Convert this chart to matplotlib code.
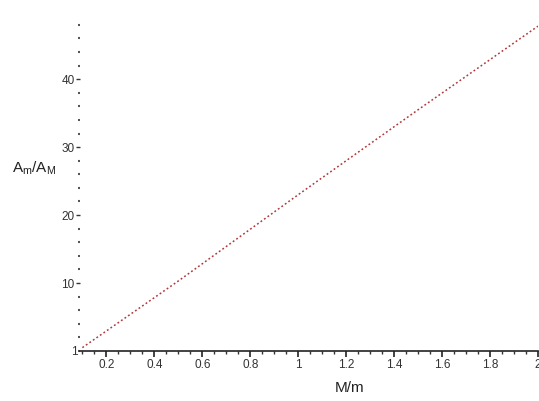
import matplotlib
matplotlib.use("Agg")
import matplotlib.pyplot as plt
from matplotlib.ticker import MultipleLocator, FixedLocator

# Data
mass_ratio = [0.1, 0.5, 1.0, 1.5, 2.0]
amp_ratio = [0.5, 10.3, 23.0, 35.5, 47.8]
x_ticks = [0.2, 0.4, 0.6, 0.8, 1.0, 1.2, 1.4, 1.6, 1.8, 2.0]
x_tick_labels = ["0.2", "0.4", "0.6", "0.8", "1", "1.2", "1.4", "1.6", "1.8", "2"]
y_ticks = [10, 20, 30, 40]
y_tick_labels = ["10", "20", "30", "40"]

plt.rcParams['font.family'] = ['Liberation Sans', 'DejaVu Sans']
plt.rcParams['mathtext.fontset'] = 'custom'
plt.rcParams['mathtext.rm'] = 'Liberation Sans'

W, H = 539, 401
fig = plt.figure(figsize=(W / 100, H / 100), dpi=100)
left, right, bottom, top = 80, 538, 351, 18
ax = fig.add_axes([left / W, 1 - bottom / H, (right - left) / W, (bottom - top) / H])

ax.plot(mass_ratio, amp_ratio, color='#b0383a', linestyle=(0, (1.2, 1.6)), linewidth=1.1)

ax.set_xlim(0.09, 2.0)
ax.set_ylim(0, 49)

for s in ['top', 'right', 'left']:
    ax.spines[s].set_visible(False)
ax.spines['bottom'].set_linewidth(1.2)
ax.spines['bottom'].set_color('#222222')

ax.xaxis.set_major_locator(FixedLocator(x_ticks))
ax.set_xticklabels(x_tick_labels)
ax.xaxis.set_minor_locator(MultipleLocator(0.05))
ax.yaxis.set_major_locator(FixedLocator(y_ticks))
ax.set_yticklabels(y_tick_labels)
ax.yaxis.set_minor_locator(MultipleLocator(2))

ax.tick_params(axis='x', which='major', direction='out', length=4, width=1.2,
               color='#222222', labelsize=8.5, labelcolor='#333333', pad=1.5)
ax.tick_params(axis='x', which='minor', direction='out', length=2.5, width=1.0, color='#333333')
ax.tick_params(axis='y', which='major', direction='out', length=3, width=1.0,
               color='#333333', labelsize=8.5, labelcolor='#333333', pad=1)
ax.tick_params(axis='y', which='minor', direction='out', length=1.2, width=1.5, color='#555555')

fig.text(12 / W, 1 - 168 / H, r'A$_\mathrm{m}$/A$_\mathrm{M}$', fontsize=11,
         ha='left', va='center', color='#222222')
fig.text(350 / W, 1 - 388 / H, 'M/m', fontsize=11, ha='center', va='center', color='#222222')
fig.text(74 / W, 1 - 352 / H, '1', fontsize=8.5, ha='center', va='center', color='#333333')

fig.savefig('out.png', dpi=100)
